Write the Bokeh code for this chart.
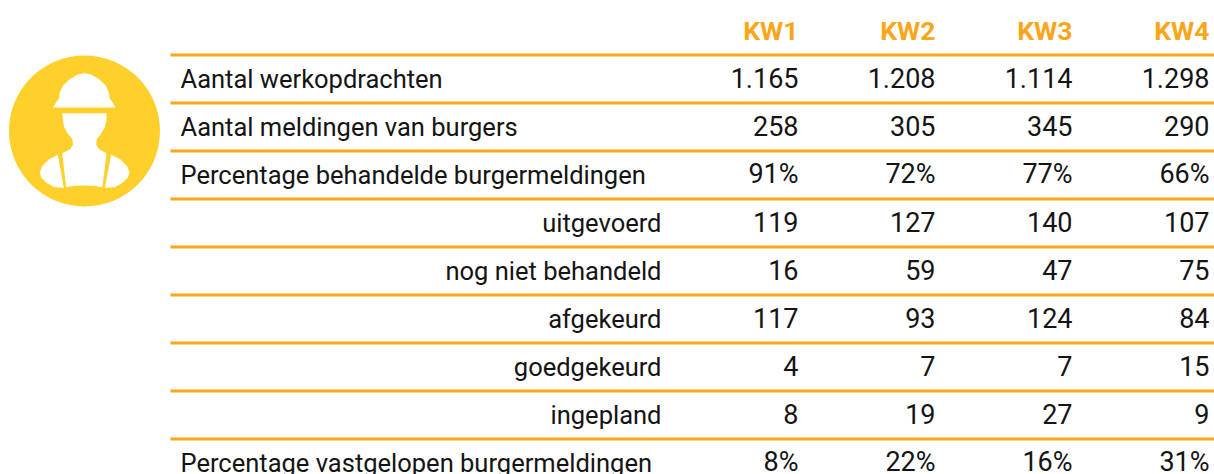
from bokeh.plotting import figure
from bokeh.models import Range1d
from bokeh.core.properties import value
from bokeh.embed import file_html
from bokeh.resources import INLINE

headers = ["KW1", "KW2", "KW3", "KW4"]
labels = ["Aantal werkopdrachten", "Aantal meldingen van burgers", "Percentage behandelde burgermeldingen",
          "uitgevoerd", "nog niet behandeld", "afgekeurd", "goedgekeurd", "ingepland",
          "Percentage vastgelopen burgermeldingen"]
indented = [False, False, False, True, True, True, True, True, False]
kw1 = ["1.165", "258", "91%", "119", "16", "117", "4", "8", "8%"]
kw2 = ["1.208", "305", "72%", "127", "59", "93", "7", "19", "22%"]
kw3 = ["1.114", "345", "77%", "140", "47", "124", "7", "27", "16%"]
kw4 = ["1.298", "290", "66%", "107", "75", "84", "15", "9", "31%"]

FONT = "Roboto"
ORANGE = "#F9A61A"
YELLOW = "#FFD02C"
INK = "#141414"
W, H = 1214, 474
col_right = [798, 935, 1072, 1209]
row_y = [78 + 48 * i for i in range(9)]
val_y = [77.5 + 48 * i for i in range(9)]
rules_y = [54.5 + 48 * i for i in range(9)]
header_y = 30

p = figure(width=W, height=H, output_backend="svg", toolbar_location=None,
           x_range=Range1d(0, W), y_range=Range1d(H, 0), min_border=0,
           outline_line_color=None, background_fill_color="white", border_fill_color="white")
p.axis.visible = False
p.grid.visible = False

# icon
p.ellipse(x=[84], y=[130.5], width=[151], height=[151], fill_color=YELLOW, line_color=None)
def z(pts):
    return [x / 3 for x, _ in pts], [40 + y / 3 for _, y in pts]
hat = [(252,98),(232,102),(208,116),(188,134),(178,155),(175,175),(166,187),(158,201),(345,201),(337,187),(328,175),(325,155),(315,134),(296,116),(272,102)]
torso = [(185,218),(318,218),(318,240),(312,262),(300,282),(289,296),(287,312),(296,326),(318,338),(306,440),(280,436),(250,435),(222,436),(197,440),(185,338),(208,327),(218,312),(215,295),(202,280),(190,258)]
left = [(172,343),(145,357),(125,377),(118,395),(122,412),(140,428),(162,440),(190,442)]
right = [(332,343),(360,357),(380,377),(387,395),(382,412),(364,428),(342,440),(313,442)]
for shape in (hat, torso, left, right):
    xs, ys = z(shape)
    p.patch(xs, ys, fill_color="white", line_color=None)

# rules
p.segment(x0=[170] * 9, x1=[W] * 9, y0=rules_y, y1=rules_y, line_color=ORANGE, line_width=3)

# header
p.text(x=col_right, y=[header_y] * 4, text=headers, text_font=value(FONT), text_font_size=value("26.5px"),
       text_font_style="bold", text_color=ORANGE, text_align="right", text_baseline="middle")

# labels
for flag, xpos, align in ((False, 180, "left"), (True, 661, "right")):
    idx = [i for i, f in enumerate(indented) if f == flag]
    p.text(x=[xpos] * len(idx), y=[row_y[i] for i in idx], text=[labels[i] for i in idx],
           text_font=value(FONT), text_font_size=value("25.5px"), text_color=INK,
           text_align=align, text_baseline="middle")

# values
for xr, col in zip(col_right, (kw1, kw2, kw3, kw4)):
    p.text(x=[xr] * len(col), y=val_y, text=col, text_font=value(FONT), text_font_size=value("27px"),
           text_color=INK, text_align="right", text_baseline="middle")

open("out.html", "w").write(file_html(p, INLINE))
